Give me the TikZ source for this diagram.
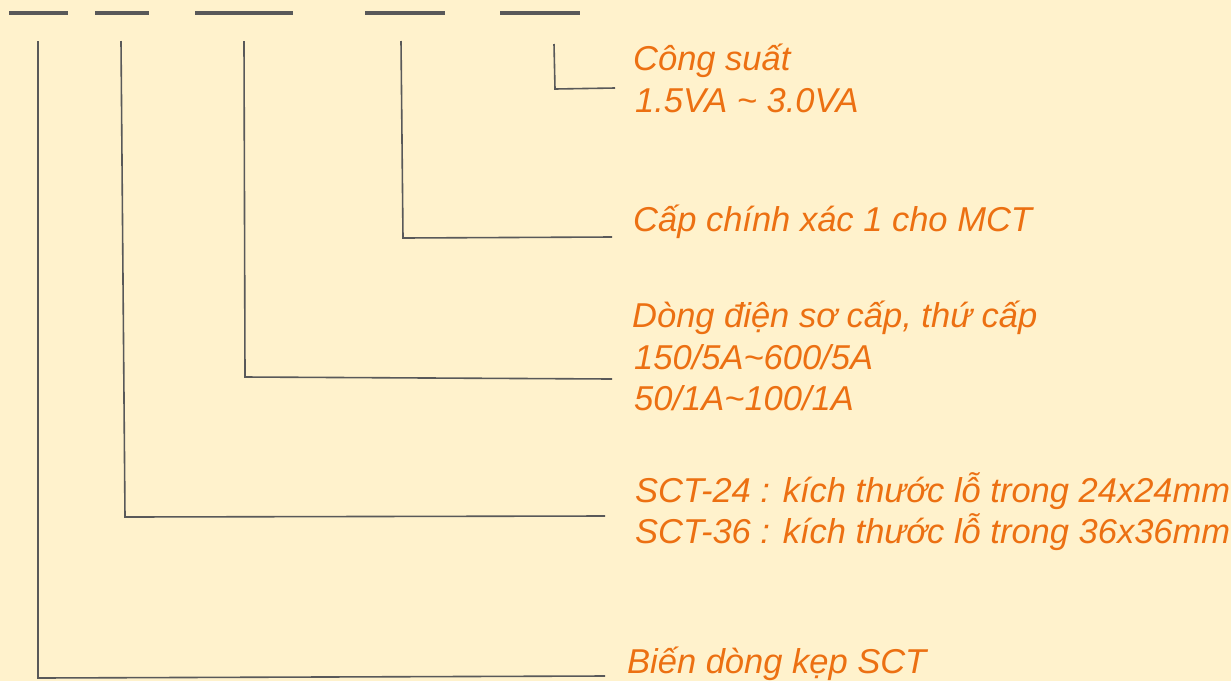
\documentclass[tikz,border=0pt]{standalone}
\usepackage{fontspec}
\setmainfont{Liberation Sans}
\definecolor{bg}{HTML}{FFF2CC}
\definecolor{txt}{RGB}{236,112,18}
\definecolor{ln}{HTML}{595959}
\begin{document}
\begin{tikzpicture}[x=1pt,y=-1pt,
  dashbar/.style={draw=ln,line width=4pt},
  conn/.style={draw=ln,line width=1.6pt,line join=miter},
  lbl/.style={anchor=base west,inner sep=0pt,text=txt,font=\fontsize{34.5}{40}\selectfont\itshape}]
\fill[bg] (0,0) rectangle (1231,681);
\useasboundingbox (0,0) rectangle (1231,681);
% top dashes
\draw[dashbar] (9,13) coordinate (d1a) -- (68,13) coordinate (d1b);
\draw[dashbar] (95,13) coordinate (d2a) -- (149,13) coordinate (d2b);
\draw[dashbar] (195,13) coordinate (d3a) -- (293,13) coordinate (d3b);
\draw[dashbar] (365,13) coordinate (d4a) -- (445,13) coordinate (d4b);
\draw[dashbar] (500,13) coordinate (d5a) -- (580,13) coordinate (d5b);
% coordinates of connectors
\coordinate (v5) at (554,44); \coordinate (c5) at (555,89); \coordinate (e5) at (615,88);
\coordinate (v4) at (401,41); \coordinate (c4) at (403,238); \coordinate (e4) at (612,237);
\coordinate (v3) at (244,41); \coordinate (c3) at (245,377); \coordinate (e3) at (612,379);
\coordinate (v2) at (121,41); \coordinate (c2) at (125,517); \coordinate (e2) at (605,516);
\coordinate (v1) at (38,41);  \coordinate (c1) at (38,678);  \coordinate (e1) at (605,676);
\draw[conn] (v5) -- (c5) -- (e5);
\draw[conn] (v4) -- (c4) -- (e4);
\draw[conn] (v3) -- (c3) -- (e3);
\draw[conn] (v2) -- (c2) -- (e2);
\draw[conn] (v1) -- (c1) -- (e1);
% labels
\node[lbl] (t5a) at (633,70) {Công suất};
\node[lbl] (t5b) at (635,112) {1.5VA \textasciitilde{} 3.0VA};
\node[lbl] (t4) at (633,231) {Cấp chính xác 1 cho MCT};
\node[lbl] (t3a) at (632,327) {Dòng điện sơ cấp, thứ cấp};
\node[lbl] (t3b) at (634,369) {150/5A\textasciitilde600/5A};
\node[lbl] (t3c) at (634,410) {50/1A\textasciitilde100/1A};
\node[lbl] (t2a) at (635,502) {SCT-24 : kích thước lỗ trong 24x24mm};
\node[lbl] (t2b) at (635,543) {SCT-36 : kích thước lỗ trong 36x36mm};
\node[lbl] (t1) at (627,673) {Biến dòng kẹp SCT};
\end{tikzpicture}
\end{document}
